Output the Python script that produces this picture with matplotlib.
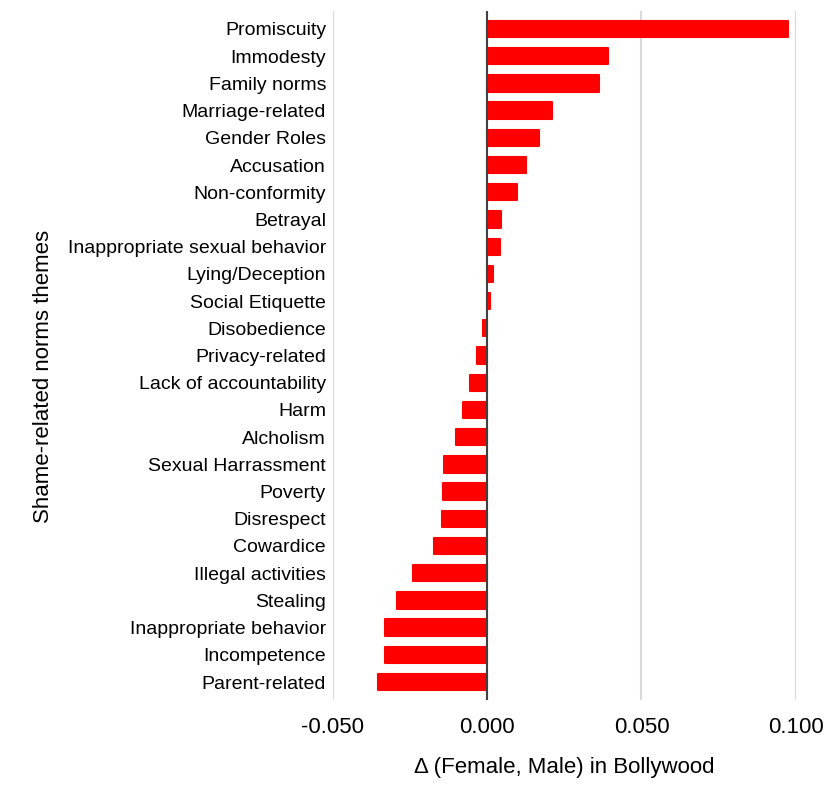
import numpy as np
import matplotlib
matplotlib.use("Agg")
import matplotlib.pyplot as plt

plt.rcParams['font.family'] = ['Liberation Sans', 'DejaVu Sans']

# thema's, van boven naar beneden
themes = ["Promiscuity", "Immodesty", "Family norms", "Marriage-related", "Gender Roles",
          "Accusation", "Non-conformity", "Betrayal", "Inappropriate sexual behavior",
          "Lying/Deception", "Social Etiquette", "Disobedience", "Privacy-related",
          "Lack of accountability", "Harm", "Alcholism", "Sexual Harrassment", "Poverty",
          "Disrespect", "Cowardice", "Illegal activities", "Stealing",
          "Inappropriate behavior", "Incompetence", "Parent-related"]
delta = [0.0975, 0.0392, 0.0364, 0.0209, 0.0169,
         0.0127, 0.0096, 0.0044, 0.0040,
         0.0019, 0.0008, -0.0013, -0.0032,
         -0.0057, -0.0077, -0.0102, -0.0139, -0.0142,
         -0.0146, -0.0174, -0.0239, -0.0292,
         -0.0332, -0.0332, -0.0353]
xticks = [-0.05, 0.0, 0.05, 0.1]
xticklabels = ["-0.050", "0.000", "0.050", "0.100"]

fig = plt.figure(figsize=(8.31, 7.88), dpi=100)
ax = fig.add_axes([0.4007, 0.1117, 0.5568, 0.8743])

y = np.arange(len(themes))
# afgeronde hoekjes via een dunne rand met ronde joinstyle
ax.barh(y, delta, height=0.6, color="#ff0000", edgecolor="#ff0000",
        linewidth=1.5, joinstyle="round", zorder=3)
ax.axvline(0, color="#404040", lw=1.5, zorder=4)

ax.set_xlim(-0.05, 0.1)
ax.set_ylim(24.66, -0.66)
ax.set_xticks(xticks)
ax.set_xticklabels(xticklabels, fontsize=16)
ax.set_yticks(y)
ax.set_yticklabels(themes, fontsize=14)
ax.tick_params(axis='both', length=0)
ax.tick_params(axis='y', pad=5)
ax.tick_params(axis='x', pad=12)
ax.grid(axis='x', color="#d9d9d9", lw=1.5, zorder=0)
for sp in ax.spines.values():
    sp.set_visible(False)

ax.set_xlabel("\u0394 (Female, Male) in Bollywood", fontsize=16, labelpad=14)
ax.set_ylabel("Shame-related norms themes", fontsize=16)
ax.yaxis.set_label_coords(-0.603, 0.47)

fig.savefig("out.png", dpi=100)
